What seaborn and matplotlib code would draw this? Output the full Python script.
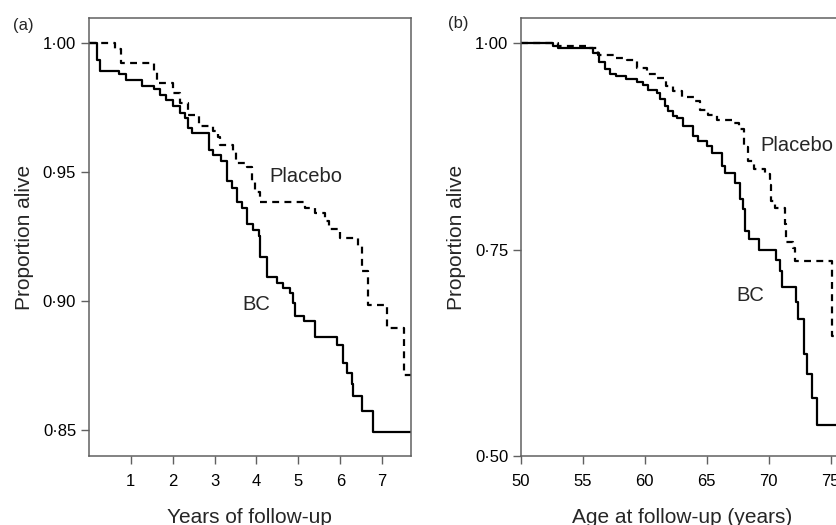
import numpy as np
import pandas as pd
import matplotlib
matplotlib.use("Agg")
import matplotlib.pyplot as plt
import seaborn as sns

# Panel (a): Kaplan-Meier by years of follow-up
YEARS_BC = [0, 0.19, 0.27, 0.73, 0.89, 1.26, 1.56, 1.70, 1.84, 2.02, 2.18, 2.30,
            2.37, 2.46, 2.88, 2.97, 3.15, 3.31, 3.41, 3.53, 3.65, 3.77, 3.93, 4.05,
            4.09, 4.25, 4.50, 4.63, 4.80, 4.87, 4.92, 5.14, 5.40, 5.93, 6.07, 6.15,
            6.27, 6.31, 6.51, 6.79, 7.68]
SURV_BC_A = [1.0, 0.9935, 0.9894, 0.988, 0.9858, 0.9835, 0.9822, 0.980, 0.978,
             0.9757, 0.9729, 0.971, 0.967, 0.9651, 0.9586, 0.9567, 0.9545, 0.9464,
             0.9438, 0.9386, 0.936, 0.930, 0.9276, 0.9253, 0.9173, 0.9095, 0.907,
             0.905, 0.903, 0.8992, 0.8943, 0.8921, 0.8861, 0.8831, 0.876, 0.8721,
             0.868, 0.8633, 0.8575, 0.8494, 0.8494]
YEARS_PL = [0, 0.63, 0.78, 1.56, 1.63, 2.00, 2.18, 2.36, 2.64, 2.97, 3.09, 3.13,
            3.45, 3.51, 3.77, 3.89, 3.97, 4.09, 5.16, 5.40, 5.64, 5.72, 6.00, 6.43,
            6.51, 6.67, 7.11, 7.52, 7.68]
SURV_PL_A = [1.0, 0.9977, 0.9922, 0.989, 0.9845, 0.9806, 0.9767, 0.9722, 0.968,
             0.9661, 0.9638, 0.9606, 0.958, 0.9535, 0.9522, 0.9464, 0.9425, 0.9386,
             0.936, 0.9341, 0.9309, 0.9279, 0.9244, 0.9212, 0.9115, 0.8986, 0.8895,
             0.8714, 0.8714]

# Panel (b): Kaplan-Meier by age at follow-up
AGE_BC = [50, 52.6, 53.0, 55.8, 56.3, 56.8, 57.2, 57.7, 58.5, 59.35, 59.9, 60.3,
          60.97, 61.2, 61.6, 61.9, 62.3, 62.6, 63.1, 63.9, 64.3, 65.0, 65.4, 66.2,
          66.5, 67.3, 67.7, 67.95, 68.1, 68.4, 69.2, 70.6, 70.9, 71.1, 72.2, 72.4,
          72.85, 73.06, 73.5, 73.9, 76.0]
SURV_BC_B = [1.0, 0.9967, 0.994, 0.988, 0.9776, 0.9695, 0.9634, 0.960, 0.9573,
             0.9532, 0.9491, 0.9439, 0.9398, 0.933, 0.9248, 0.9187, 0.9126, 0.9098,
             0.9004, 0.8882, 0.882, 0.876, 0.8678, 0.8516, 0.8434, 0.8312, 0.811,
             0.7988, 0.7723, 0.7634, 0.75, 0.7378, 0.7237, 0.7053, 0.687, 0.6666,
             0.6239, 0.5995, 0.5698, 0.5373, 0.5373]
AGE_PL = [50, 53.0, 55.4, 56.2, 57.6, 58.6, 59.4, 60.2, 60.9, 61.7, 62.3, 63.0,
          64.0, 64.5, 65.1, 65.8, 67.2, 67.6, 68.0, 68.3, 68.8, 69.7, 70.1, 70.2,
          70.5, 71.3, 71.4, 72.0, 72.1, 75.1, 76.0]
SURV_PL_B = [1.0, 0.997, 0.994, 0.986, 0.983, 0.9796, 0.970, 0.9626, 0.958, 0.949,
             0.943, 0.9357, 0.930, 0.9195, 0.9138, 0.907, 0.904, 0.896, 0.874, 0.858,
             0.848, 0.842, 0.829, 0.809, 0.801, 0.781, 0.759, 0.752, 0.7366, 0.645,
             0.645]

A_XTICKS = [1, 2, 3, 4, 5, 6, 7]
A_YTICKS = [0.85, 0.90, 0.95, 1.00]
B_XTICKS = [50, 55, 60, 65, 70, 75]
B_YTICKS = [0.50, 0.75, 1.00]

sns.set_theme(style="ticks")
plt.rcParams["font.family"] = ["Liberation Sans", "DejaVu Sans"]

SPINE = "#606060"
PALETTE = {"BC": "black", "Placebo": "black"}
DASHES = {"BC": "", "Placebo": (3.1, 2.4)}


def long_df(t_bc, s_bc, t_pl, s_pl):
    return pd.concat([
        pd.DataFrame({"t": t_bc, "surv": s_bc, "group": "BC"}),
        pd.DataFrame({"t": t_pl, "surv": s_pl, "group": "Placebo"}),
    ], ignore_index=True)


def dot(v, fmt):
    return format(v, fmt).replace(".", "\u00b7")


fig = plt.figure(figsize=(8.37, 5.25), dpi=100)
ax_a = fig.add_axes([0.106, 0.1314, 0.3847, 0.8337])
ax_b = fig.add_axes([0.6221, 0.1314, 0.3851, 0.8337])

panels = [
    (ax_a, long_df(YEARS_BC, SURV_BC_A, YEARS_PL, SURV_PL_A), (0, 7.68), (0.8399, 1.0097),
     A_XTICKS, A_YTICKS, "Years of follow-up", (4.32, 0.9463), (3.67, 0.8966)),
    (ax_b, long_df(AGE_BC, SURV_BC_B, AGE_PL, SURV_PL_B), (50, 76), (0.50, 1.0305),
     B_XTICKS, B_YTICKS, "Age at follow-up (years)", (69.3, 0.8698), (67.4, 0.6877)),
]

for ax, df, xlim, ylim, xt, yt, xlab, pl_pos, bc_pos in panels:
    sns.lineplot(data=df, x="t", y="surv", hue="group", style="group",
                 palette=PALETTE, dashes=DASHES, estimator=None,
                 drawstyle="steps-post", lw=1.6, legend=False, ax=ax)
    ax.set_xlim(*xlim)
    ax.set_ylim(*ylim)
    ax.set_xticks(xt, labels=[str(v) for v in xt])
    ax.set_yticks(yt, labels=[dot(v, ".2f") for v in yt])
    ax.tick_params(direction="out", length=6, width=1, color=SPINE,
                   labelsize=12, labelcolor="black")
    ax.tick_params(axis="x", pad=7)
    ax.tick_params(axis="y", pad=3)
    for sp in ax.spines.values():
        sp.set_color(SPINE)
        sp.set_linewidth(1.1)
    ax.set_xlabel(xlab, fontsize=15)
    ax.xaxis.label.set_va("baseline")
    ax.xaxis.set_label_coords(0.5, -0.153)
    ax.set_ylabel("Proportion alive", fontsize=15)
    ax.yaxis.set_label_coords(-0.17, 0.5)
    ax.text(*pl_pos, "Placebo", fontsize=14.5, va="baseline")
    ax.text(*bc_pos, "BC", fontsize=14.5, va="baseline")

fig.text(0.0152, 0.966, "(a)", fontsize=12, va="top")
fig.text(0.535, 0.969, "(b)", fontsize=12, va="top")

plt.savefig("out.png", dpi=100)
plt.close()
